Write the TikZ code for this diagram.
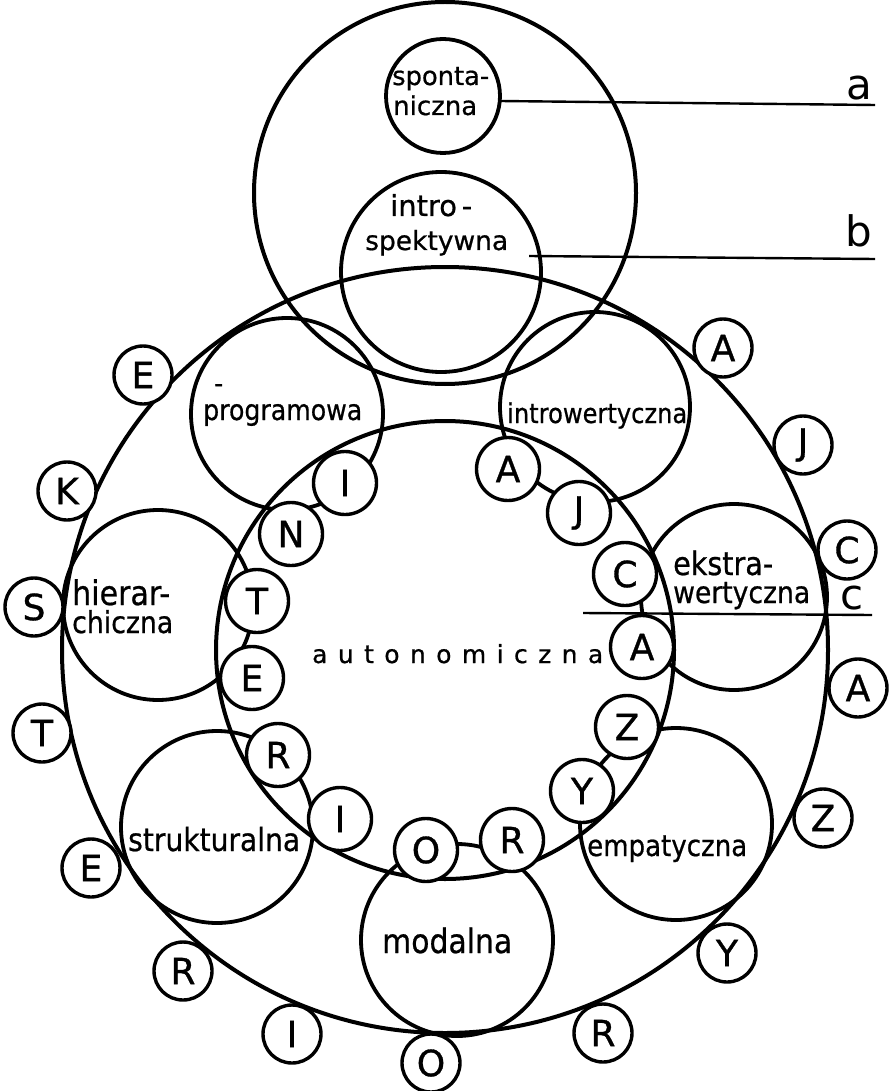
\documentclass[tikz,border=0pt]{standalone}
\usepackage{fontspec}
\setmainfont{DejaVu Sans}
\newfontfamily\wordfont{DejaVu Sans}[FakeBold=0.7]
\newfontfamily\letfont{DejaVu Sans}[FakeBold=0.9]
\usepackage{graphicx}
\newcommand{\fitw}[2]{\resizebox{#1pt}{!}{#2}}
\newcommand{\fitt}[2]{\scalebox{1}[1.13]{\resizebox{#1pt}{!}{#2}}}
\newcommand{\ls}{\kern0.42em}
\begin{document}
\begin{tikzpicture}[x=1pt,y=-1pt,
  bigc/.style={circle,draw,line width=4pt,inner sep=0pt,minimum size=#1},
  medc/.style={circle,draw,line width=3.8pt,inner sep=0pt,minimum size=#1},
  letin/.style={circle,draw,fill=white,line width=3.4pt,inner sep=0pt,minimum size=63pt,font=\letfont\fontsize{36}{36}\selectfont},
  letout/.style={circle,draw,fill=white,line width=3.4pt,inner sep=0pt,minimum size=58pt,font=\letfont\fontsize{36}{36}\selectfont},
  word/.style={inner sep=0pt,font=\wordfont\fontsize{20}{24}\selectfont},
  lbl/.style={inner sep=0pt,font=\fontsize{42}{42}\selectfont},
  guide/.style={line width=2.4pt}]
\useasboundingbox (0,0) rectangle (889,1091);

% large circles
\node[bigc=766pt] (outer) at (445,650) {};
\node[bigc=458pt] (inner) at (445,650) {};
\node[bigc=382pt] (top) at (445,193) {};
\node[medc=114pt] (spont) at (443,96) {};
\node[medc=200pt] (introsp) at (441,272) {};

% medium circles
\node[medc=192pt] (progr) at (287,414) {};
\node[medc=190pt] (introw) at (595,407) {};
\node[medc=186pt] (ekstr) at (734,597) {};
\node[medc=192pt] (empat) at (676,824) {};
\node[medc=192pt] (modal) at (457,940) {};
\node[medc=192pt] (strukt) at (217,827) {};
\node[medc=190pt] (hier) at (158,605) {};

% guide lines
\coordinate (a1) at (500,101); \coordinate (a2) at (875,105);
\coordinate (b1) at (529,256); \coordinate (b2) at (875,259);
\coordinate (c1) at (583,613); \coordinate (c2) at (872,615);
\draw[guide] (a1) -- (a2);
\draw[guide] (b1) -- (b2);
\draw[guide] (c1) -- (c2);
\node[lbl,anchor=base] (la) at (859,100) {a};
\node[lbl,anchor=base] (lb) at (859,247) {b};
\node[lbl,anchor=base] (lc) at (852,609) {c};

% inner ring letters: INTERIORYZACJA
\node[letin] (i1) at (345,483) {I};
\node[letin] (i2) at (291,534) {N};
\node[letin] (i3) at (257,601) {T};
\node[letin] (i4) at (252,678) {E};
\node[letin] (i5) at (278,755) {R};
\node[letin] (i6) at (340,819) {I};
\node[letin] (i7) at (426,850) {O};
\node[letin] (i8) at (512,840) {R};
\node[letin] (i9) at (582,791) {Y};
\node[letin] (i10) at (627,727) {Z};
\node[letin] (i11) at (642,647) {A};
\node[letin] (i12) at (625,574) {C};
\node[letin] (i13) at (579,513) {J};
\node[letin] (i14) at (508,469) {A};

% outer ring letters: EKSTERIORYZACJA
\node[letout] (o1) at (143,375) {E};
\node[letout] (o2) at (67,491) {K};
\node[letout] (o3) at (34,607) {S};
\node[letout] (o4) at (42,733) {T};
\node[letout] (o5) at (91,868) {E};
\node[letout] (o6) at (183,971) {R};
\node[letout] (o7) at (292,1034) {I};
\node[letout] (o8) at (431,1063) {O};
\node[letout] (o9) at (603,1033) {R};
\node[letout] (o10) at (727,953) {Y};
\node[letout] (o11) at (823,818) {Z};
\node[letout] (o12) at (858,688) {A};
\node[letout] (o13) at (847,550) {C};
\node[letout] (o14) at (803,445) {J};
\node[letout] (o15) at (723,348) {A};

% words
\node[word,anchor=base west] (tsp1) at (392,85) {\fitw{97}{sponta-}};
\node[word,anchor=base west] (tsp2) at (393,115) {\fitw{84}{niczna}};
\node[word,anchor=base west] (tin1) at (390,216) {\fitw{82}{intro\,-}};
\node[word,anchor=base west] (tin2) at (365,250) {\fitw{143}{spektywna}};
\node[word,anchor=base west] (tdash) at (214,392) {\fitw{9}{-}};
\node[word,anchor=base west] (tpr) at (203,420) {\fitt{159}{programowa}};
\node[word,anchor=base west] (tiw) at (507,423) {\fitt{180}{introwertyczna}};
\node[word,anchor=base west] (tek1) at (673,575) {\fitt{100}{ekstra-}};
\node[word,anchor=base west] (tek2) at (673,603) {\fitt{137}{wertyczna}};
\node[word,anchor=base west] (thi1) at (72,605) {\fitt{98}{hierar-}};
\node[word,anchor=base west] (thi2) at (72,633) {\fitt{101}{chiczna}};
\node[word,anchor=base west] (tst) at (128,851) {\fitt{172}{strukturalna}};
\node[word,anchor=base west] (tem) at (587,856) {\fitt{160}{empatyczna}};
\node[word,anchor=base west] (tmo) at (382,953) {\fitt{130}{modalna}};
\node[word,anchor=base west] (tau) at (312,663) {\fitw{291}{a\ls u\ls t\ls o\ls n\ls o\ls m\ls i\ls c\ls z\ls n\ls a}};
\end{tikzpicture}
\end{document}
